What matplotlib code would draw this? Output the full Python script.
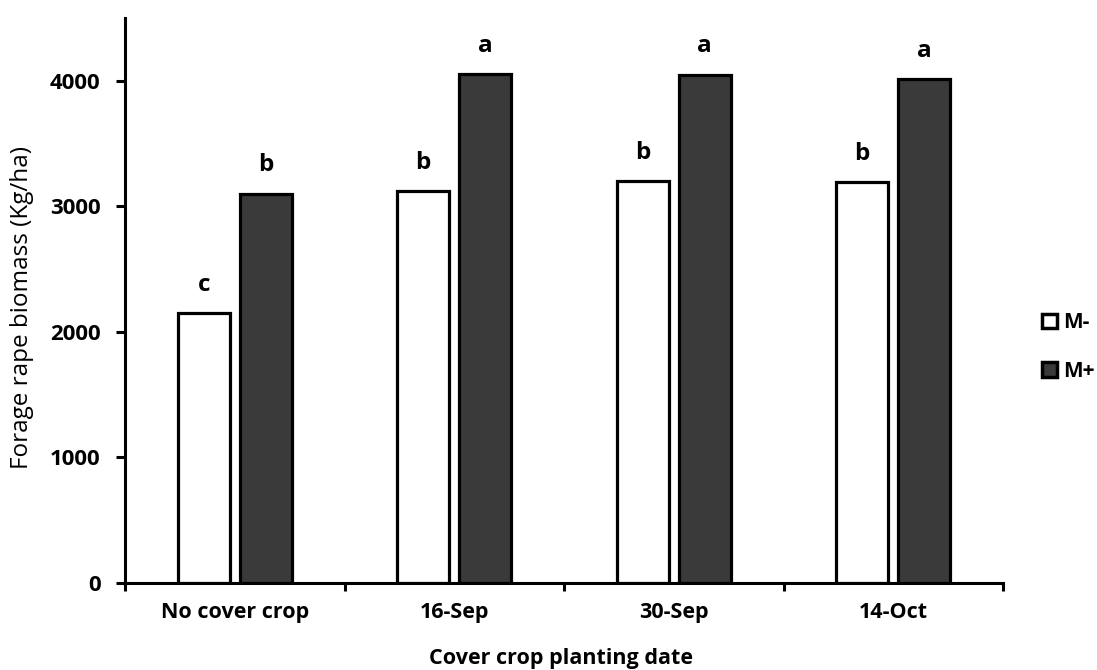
import matplotlib
matplotlib.use("Agg")
import matplotlib.pyplot as plt
import numpy as np
from matplotlib.patches import Patch

categories = ["No cover crop", "16-Sep", "30-Sep", "14-Oct"]
m_minus = [2150, 3120, 3200, 3195]
m_plus = [3100, 4055, 4048, 4015]
letters_minus = ["c", "b", "b", "b"]
letters_plus = ["b", "a", "a", "a"]
series_names = ["M-", "M+"]

plt.rcParams['font.family'] = ['Open Sans', 'DejaVu Sans']

fig = plt.figure(figsize=(10.97, 6.70), dpi=100)
ax = fig.add_axes([125/1097, 1-583/670, (1003-125)/1097, (583-18)/670])

x = np.arange(len(categories))
w = 0.237
off = 0.141
lw = 2.3
ax.bar(x - off, m_minus, width=w, color="white", edgecolor="black", linewidth=lw, zorder=2)
ax.bar(x + off, m_plus, width=w, color="#3a3a3a", edgecolor="black", linewidth=lw, zorder=2)

for i in range(len(categories)):
    ax.text(x[i] - off, m_minus[i] + 130, letters_minus[i], ha="center", va="bottom",
            fontsize=17.5, fontweight="bold")
    ax.text(x[i] + off, m_plus[i] + 130, letters_plus[i], ha="center", va="bottom",
            fontsize=17.5, fontweight="bold")

ax.set_xlim(-0.5, len(categories) - 0.5)
ax.set_ylim(0, 4500)
ax.set_yticks([0, 1000, 2000, 3000, 4000])
ax.set_xticks(np.arange(len(categories) + 1) - 0.5, minor=False)
ax.set_xticklabels([])
ax.set_xticks(x, minor=True)
ax.set_xticklabels(categories, minor=True, fontsize=15.5, fontweight="bold")
ax.tick_params(axis="x", which="major", direction="out", length=6, width=2.2)
ax.tick_params(axis="x", which="minor", length=0, pad=14)
ax.tick_params(axis="y", direction="out", length=6.5, width=2.2, labelsize=16, pad=11)
for lab in ax.get_yticklabels():
    lab.set_fontweight("bold")

for s in ["top", "right"]:
    ax.spines[s].set_visible(False)
for s in ["left", "bottom"]:
    ax.spines[s].set_linewidth(2.2)

ax.set_ylabel("Forage rape biomass (Kg/ha)", fontsize=17.5, va="center")
ax.yaxis.set_label_coords(-0.117, 0.487)
ax.set_xlabel("Cover crop planting date", fontsize=15.5, fontweight="bold", va="center")
ax.xaxis.set_label_coords(0.497, -0.133)

handles = [Patch(facecolor="white", edgecolor="black", linewidth=2.5),
           Patch(facecolor="#3a3a3a", edgecolor="black", linewidth=2.5)]
fig.legend(handles, series_names, loc="center left", bbox_to_anchor=(1042/1097, 1-347/670),
           frameon=False, borderpad=0, borderaxespad=0, handlelength=0.7, handleheight=0.7,
           handletextpad=0.3, labelspacing=1.3, prop={"size": 15, "weight": "bold"})

fig.savefig("out.png", dpi=100)
